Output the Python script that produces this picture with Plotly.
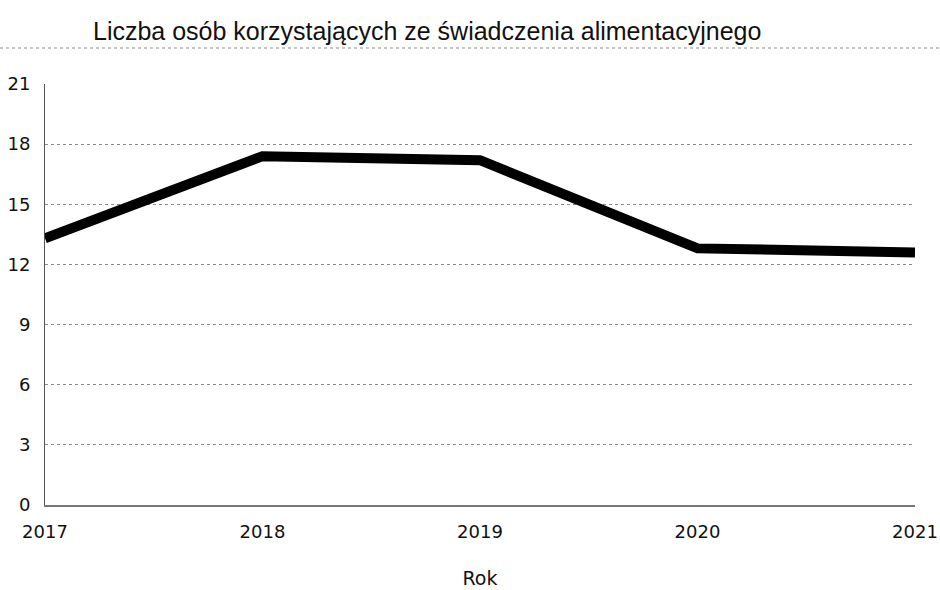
import plotly.graph_objects as go

# Number of people receiving maintenance (alimony fund) benefit, by year
years = [2017, 2018, 2019, 2020, 2021]
people = [13.3, 17.4, 17.2, 12.8, 12.6]

y_ticks = [0, 3, 6, 9, 12, 15, 18, 21]

title_text = "Liczba osób korzystających ze świadczenia alimentacyjnego"
x_title = "Rok"

fig = go.Figure()
fig.add_trace(go.Scatter(
    x=years,
    y=people,
    mode="lines",
    line=dict(color="#000000", width=10),
    hoverinfo="x+y",
    showlegend=False,
))

tick_font = dict(family="DejaVu Sans", size=18, color="#111111")

fig.update_layout(
    width=940,
    height=590,
    paper_bgcolor="white",
    plot_bgcolor="white",
    margin=dict(l=45, r=25, t=84, b=85, autoexpand=False),
    title=dict(
        text=title_text,
        x=93 / 940,
        xanchor="left",
        y=1 - 31 / 590,
        yanchor="middle",
        font=dict(family="Liberation Sans", size=25, color="#111111"),
    ),
    xaxis=dict(
        range=[2017, 2021],
        tickvals=years,
        ticktext=[str(y) for y in years],
        tickfont=tick_font,
        ticklabeloverflow="allow",
        automargin=False,
        showgrid=False,
        zeroline=False,
        showline=True,
        linecolor="#777777",
        linewidth=1.5,
        ticks="",
        ticklabelstandoff=10,
        title=dict(text=x_title, font=dict(family="DejaVu Sans", size=19, color="#111111"), standoff=30),
    ),
    yaxis=dict(
        range=[0, 21],
        tickvals=y_ticks,
        tickfont=tick_font,
        automargin=False,
        showgrid=True,
        gridcolor="#8a8a8a",
        gridwidth=1,
        griddash="dot",
        zeroline=False,
        showline=True,
        linecolor="#555555",
        linewidth=1,
        ticks="",
        ticklabelstandoff=10,
    ),
)

# dotted rule beneath the title
fig.add_shape(
    type="line",
    xref="paper", yref="paper",
    x0=-45 / 870, x1=(940 - 45) / 870,
    y0=(505 - 48) / 421, y1=(505 - 48) / 421,
    line=dict(color="#8a8a8a", width=1, dash="dot"),
)

fig.write_html("out.html")
